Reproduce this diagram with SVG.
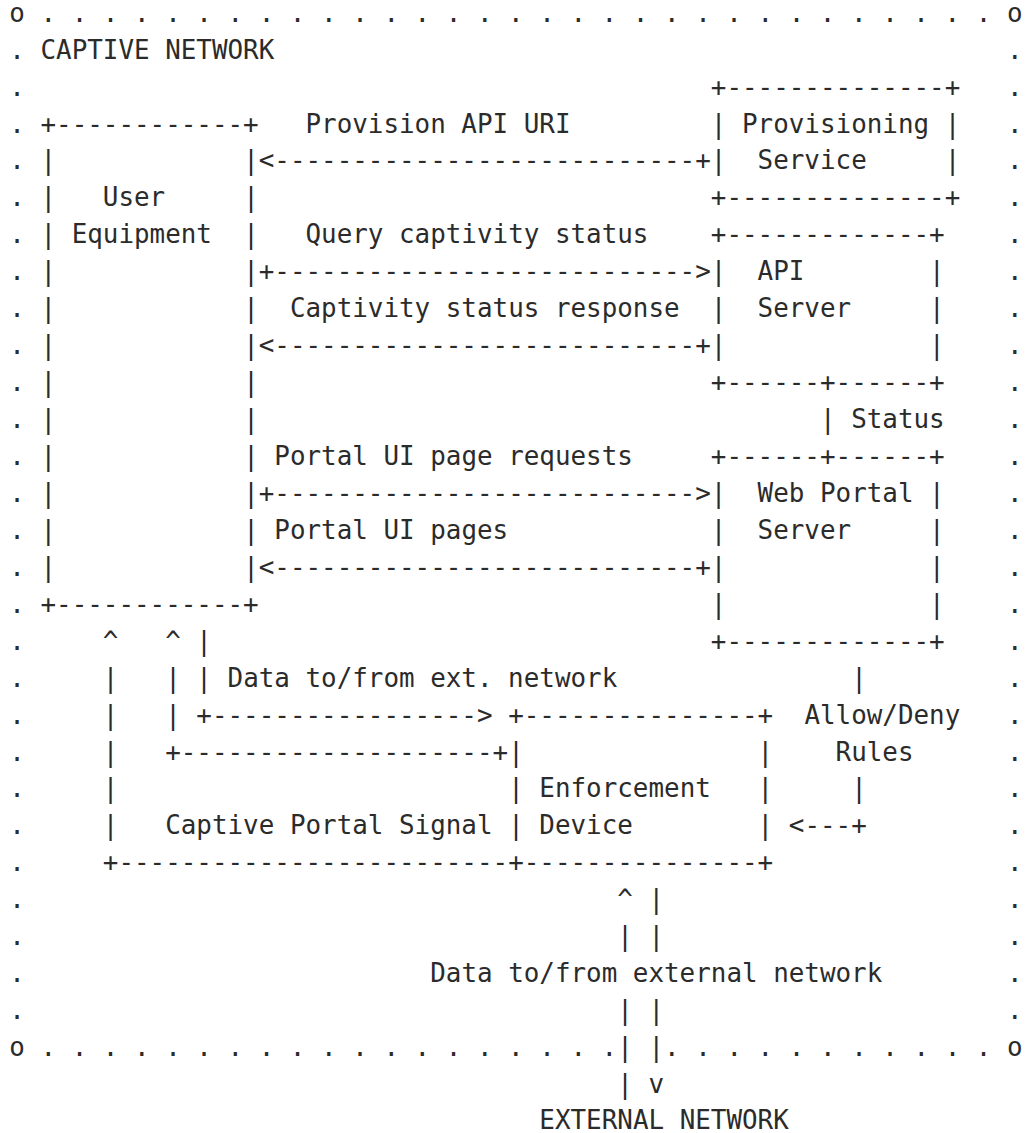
<svg xmlns="http://www.w3.org/2000/svg" width="1025" height="1133" viewBox="0 0 1025 1133" xml:space="preserve">
  <style>
    text { font-family: "DejaVu Sans Mono", "Liberation Mono", monospace; font-size: 25.9px; fill: #2b2b2b; white-space: pre; }
  </style>
  <rect width="1025" height="1133" fill="#fff"/>

  <!-- Character grid: column c starts at x = 9.3 + c*15.59, row r baseline at y = 21.7 + (r-1)*36.94 -->

  <!-- Captive network boundary -->
  <g id="captive-network">
    <text x="9.3" y="21.7">o . . . . . . . . . . . . . . . . . . . . . . . . . . . . . . . o</text>
    <text x="40.48" y="58.64">CAPTIVE NETWORK</text>
    <text x="9.3" y="1056.02">o . . . . . . . . . . . . . . . . . . .</text>
    <text x="664.08" y="1056.02">. . . . . . . . . . . o</text>
    <text>
      <tspan x="9.3" y="58.64">.</tspan><tspan x="9.3" y="95.58">.</tspan><tspan x="9.3" y="132.52">.</tspan><tspan x="9.3" y="169.46">.</tspan><tspan x="9.3" y="206.4">.</tspan><tspan x="9.3" y="243.34">.</tspan><tspan x="9.3" y="280.28">.</tspan><tspan x="9.3" y="317.22">.</tspan><tspan x="9.3" y="354.16">.</tspan><tspan x="9.3" y="391.1">.</tspan><tspan x="9.3" y="428.04">.</tspan><tspan x="9.3" y="464.98">.</tspan><tspan x="9.3" y="501.92">.</tspan><tspan x="9.3" y="538.86">.</tspan><tspan x="9.3" y="575.8">.</tspan><tspan x="9.3" y="612.74">.</tspan><tspan x="9.3" y="649.68">.</tspan><tspan x="9.3" y="686.62">.</tspan><tspan x="9.3" y="723.56">.</tspan><tspan x="9.3" y="760.5">.</tspan><tspan x="9.3" y="797.44">.</tspan><tspan x="9.3" y="834.38">.</tspan><tspan x="9.3" y="871.32">.</tspan><tspan x="9.3" y="908.26">.</tspan><tspan x="9.3" y="945.2">.</tspan><tspan x="9.3" y="982.14">.</tspan><tspan x="9.3" y="1019.08">.</tspan>
    </text>
    <text>
      <tspan x="1007.06" y="58.64">.</tspan><tspan x="1007.06" y="95.58">.</tspan><tspan x="1007.06" y="132.52">.</tspan><tspan x="1007.06" y="169.46">.</tspan><tspan x="1007.06" y="206.4">.</tspan><tspan x="1007.06" y="243.34">.</tspan><tspan x="1007.06" y="280.28">.</tspan><tspan x="1007.06" y="317.22">.</tspan><tspan x="1007.06" y="354.16">.</tspan><tspan x="1007.06" y="391.1">.</tspan><tspan x="1007.06" y="428.04">.</tspan><tspan x="1007.06" y="464.98">.</tspan><tspan x="1007.06" y="501.92">.</tspan><tspan x="1007.06" y="538.86">.</tspan><tspan x="1007.06" y="575.8">.</tspan><tspan x="1007.06" y="612.74">.</tspan><tspan x="1007.06" y="649.68">.</tspan><tspan x="1007.06" y="686.62">.</tspan><tspan x="1007.06" y="723.56">.</tspan><tspan x="1007.06" y="760.5">.</tspan><tspan x="1007.06" y="797.44">.</tspan><tspan x="1007.06" y="834.38">.</tspan><tspan x="1007.06" y="871.32">.</tspan><tspan x="1007.06" y="908.26">.</tspan><tspan x="1007.06" y="945.2">.</tspan><tspan x="1007.06" y="982.14">.</tspan><tspan x="1007.06" y="1019.08">.</tspan>
    </text>
  </g>

  <!-- User Equipment -->
  <g id="user-equipment">
    <text x="40.48" y="132.52">+------------+</text>
    <!-- left side -->
    <text>
      <tspan x="40.48" y="169.46">|</tspan><tspan x="40.48" y="206.4">|</tspan><tspan x="40.48" y="243.34">|</tspan><tspan x="40.48" y="280.28">|</tspan><tspan x="40.48" y="317.22">|</tspan><tspan x="40.48" y="354.16">|</tspan><tspan x="40.48" y="391.1">|</tspan><tspan x="40.48" y="428.04">|</tspan><tspan x="40.48" y="464.98">|</tspan><tspan x="40.48" y="501.92">|</tspan><tspan x="40.48" y="538.86">|</tspan><tspan x="40.48" y="575.8">|</tspan>
    </text>
    <!-- right side -->
    <text>
      <tspan x="243.15" y="169.46">|</tspan><tspan x="243.15" y="206.4">|</tspan><tspan x="243.15" y="243.34">|</tspan><tspan x="243.15" y="280.28">|</tspan><tspan x="243.15" y="317.22">|</tspan><tspan x="243.15" y="354.16">|</tspan><tspan x="243.15" y="391.1">|</tspan><tspan x="243.15" y="428.04">|</tspan><tspan x="243.15" y="464.98">|</tspan><tspan x="243.15" y="501.92">|</tspan><tspan x="243.15" y="538.86">|</tspan><tspan x="243.15" y="575.8">|</tspan>
    </text>
    <text x="40.48" y="612.74">+------------+</text>
    <text x="102.84" y="206.4">User</text>
    <text x="71.66" y="243.34">Equipment</text>
  </g>

  <!-- Provisioning Service -->
  <g id="provisioning-service">
    <text x="710.85" y="95.58">+--------------+</text>
    <text x="710.85" y="132.52">| Provisioning |</text>
    <text x="710.85" y="169.46">|  Service     |</text>
    <text x="710.85" y="206.4">+--------------+</text>
  </g>

  <!-- API Server -->
  <g id="api-server">
    <text x="710.85" y="243.34">+-------------+</text>
    <text x="710.85" y="280.28">|  API        |</text>
    <text x="710.85" y="317.22">|  Server     |</text>
    <text x="710.85" y="354.16">|             |</text>
    <text x="710.85" y="391.1">+------+------+</text>
  </g>

  <!-- Web Portal Server -->
  <g id="web-portal-server">
    <text x="710.85" y="464.98">+------+------+</text>
    <text x="710.85" y="501.92">|  Web Portal |</text>
    <text x="710.85" y="538.86">|  Server     |</text>
    <text x="710.85" y="575.8">|             |</text>
    <text x="710.85" y="612.74">|             |</text>
    <text x="710.85" y="649.68">+-------------+</text>
  </g>

  <!-- Enforcement Device -->
  <g id="enforcement-device">
    <text x="508.18" y="723.56">+---------------+</text>
    <text x="508.18" y="760.5">|               |</text>
    <text x="508.18" y="797.44">| Enforcement   |</text>
    <text x="508.18" y="834.38">| Device        |</text>
    <text x="508.18" y="871.32">+---------------+</text>
  </g>

  <!-- External network -->
  <g id="external-network">
    <text x="539.36" y="1129.2">EXTERNAL NETWORK</text>
  </g>

  <!-- Connectors and their labels -->
  <g id="connectors">
    <!-- provisioning API URI -->
    <text x="305.51" y="132.52">Provision API URI</text>
    <text x="258.74" y="169.46">&lt;---------------------------+</text>

    <!-- captivity query and response -->
    <text x="305.51" y="243.34">Query captivity status</text>
    <text x="258.74" y="280.28">+---------------------------&gt;</text>
    <text x="289.92" y="317.22">Captivity status response</text>
    <text x="258.74" y="354.16">&lt;---------------------------+</text>

    <!-- status between API server and web portal -->
    <text x="819.98" y="428.04">|</text>
    <text x="851.16" y="428.04">Status</text>

    <!-- portal UI pages -->
    <text x="274.33" y="464.98">Portal UI page requests</text>
    <text x="258.74" y="501.92">+---------------------------&gt;</text>
    <text x="274.33" y="538.86">Portal UI pages</text>
    <text x="258.74" y="575.8">&lt;---------------------------+</text>

    <!-- data to/from ext. network via enforcement device -->
    <text x="165.2" y="649.68">^ |</text>
    <text x="165.2" y="686.62">| |</text>
    <text x="227.56" y="686.62">Data to/from ext. network</text>
    <text x="165.2" y="723.56">| +-----------------&gt;</text>
    <text x="165.2" y="760.5">+--------------------+</text>

    <!-- captive portal signal -->
    <text>
      <tspan x="102.84" y="649.68">^</tspan><tspan x="102.84" y="686.62">|</tspan><tspan x="102.84" y="723.56">|</tspan><tspan x="102.84" y="760.5">|</tspan><tspan x="102.84" y="797.44">|</tspan><tspan x="102.84" y="834.38">|</tspan>
    </text>
    <text x="165.2" y="834.38">Captive Portal Signal</text>
    <text x="102.84" y="871.32">+-------------------------</text>

    <!-- allow/deny rules -->
    <text x="851.16" y="686.62">|</text>
    <text x="804.39" y="723.56">Allow/Deny</text>
    <text x="835.57" y="760.5">Rules</text>
    <text x="851.16" y="797.44">|</text>
    <text x="788.8" y="834.38">&lt;---+</text>

    <!-- data to/from external network -->
    <text x="617.31" y="908.26">^ |</text>
    <text x="617.31" y="945.2">| |</text>
    <text x="430.23" y="982.14">Data to/from external network</text>
    <text x="617.31" y="1019.08">| |</text>
    <text x="617.31" y="1056.02">| |</text>
    <text x="617.31" y="1092.96">| v</text>
  </g>
</svg>
